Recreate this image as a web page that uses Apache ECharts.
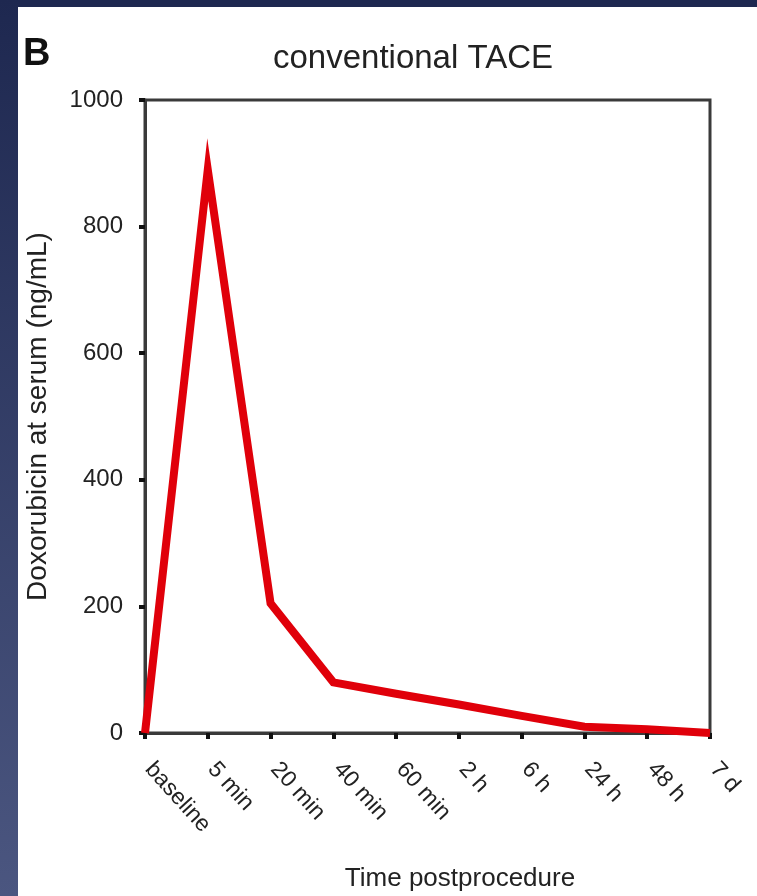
<!DOCTYPE html>
<html>
<head>
<meta charset="utf-8">
<script src="https://cdn.jsdelivr.net/npm/echarts@6/dist/echarts.min.js"></script>
<style>
html,body{margin:0;padding:0;background:#fff;}
#chart{width:757px;height:896px;}
</style>
</head>
<body>
<div id="chart"></div>
<script>
const categories = ['baseline', '5 min', '20 min', '40 min', '60 min', '2 h', '6 h', '24 h', '48 h', '7 d'];
const doxorubicin = [0, 890, 205, 80, 62, 45, 27, 10, 6, 0];
const yTicks = [0, 200, 400, 600, 800, 1000];

const chart = echarts.init(document.getElementById('chart'));
const font = 'Liberation Sans, Arial, sans-serif';
chart.setOption({
  backgroundColor: '#ffffff',
  animation: false,
  graphic: [
    { type: 'rect', left: 0, top: 0, z: -10, shape: { width: 757, height: 7 }, style: { fill: '#1e2850' } },
    { type: 'rect', left: 0, top: 0, z: -10, shape: { width: 18, height: 896 },
      style: { fill: new echarts.graphic.LinearGradient(0, 0, 0, 1, [{ offset: 0, color: '#1e2850' }, { offset: 1, color: '#4b5680' }]) } },
    { type: 'text', left: 23, top: 36, style: { text: 'B', font: 'bold 38px ' + font, fill: '#111' } },
    { type: 'text', x: 460, y: 866, style: { text: 'Time postprocedure', font: '26px ' + font, fill: '#222', textAlign: 'center', textVerticalAlign: 'top' } }
  ],
  title: {
    text: 'conventional TACE',
    left: 408, top: 37, textAlign: 'center',
    textStyle: { fontFamily: font, fontSize: 33, fontWeight: 'normal', color: '#222' }
  },
  grid: {
    left: 145, right: 47, top: 100, bottom: 163,
    show: true, borderColor: '#3a3a3a', borderWidth: 3, backgroundColor: 'transparent'
  },
  xAxis: {
    type: 'category',
    data: categories,
    boundaryGap: false,
    axisLine: { lineStyle: { color: '#3a3a3a', width: 3 } },
    axisTick: { show: true, length: 6, lineStyle: { color: '#111', width: 4 } },
    axisLabel: { rotate: -48, margin: 28, padding: [0, 0, 0, 6], fontFamily: font, fontSize: 23, color: '#222', interval: 0 },
    splitLine: { show: false }
  },
  yAxis: {
    type: 'value',
    min: 0, max: 1000, interval: 200,
    name: 'Doxorubicin at serum (ng/mL)',
    nameLocation: 'middle',
    nameGap: 93,
    nameTextStyle: { fontFamily: font, fontSize: 28, color: '#222' },
    axisLine: { show: true, lineStyle: { color: '#3a3a3a', width: 3 } },
    axisTick: { show: true, length: 6, lineStyle: { color: '#111', width: 4 } },
    axisLabel: {
      margin: 22, fontFamily: font, fontSize: 24, color: '#222',
      formatter: v => yTicks.includes(v) ? String(v) : ''
    },
    splitLine: { show: false }
  },
  series: [{
    type: 'line',
    data: doxorubicin,
    showSymbol: false,
    symbol: 'none',
    clip: false,
    lineStyle: { color: '#e0000a', width: 8, join: 'miter', miterLimit: 10, cap: 'butt' },
    z: 3
  }]
});
</script>
</body>
</html>
